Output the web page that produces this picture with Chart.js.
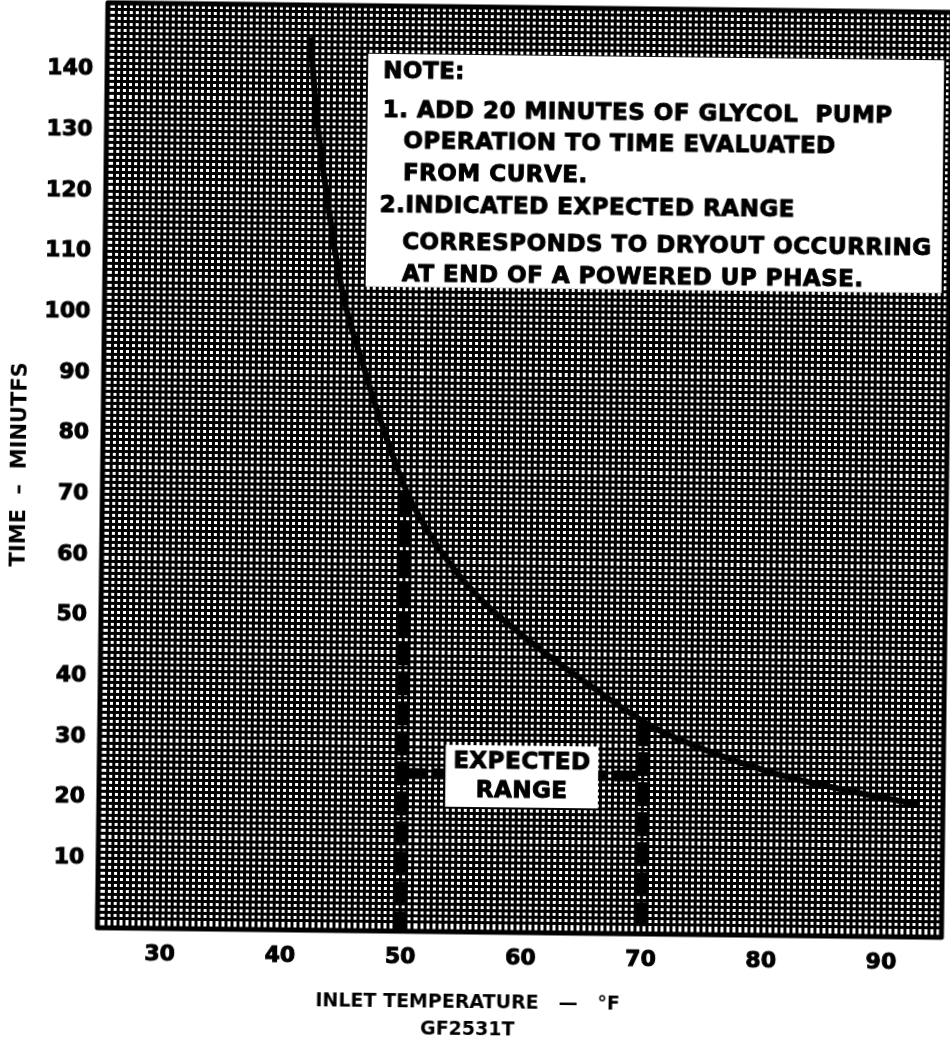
<!DOCTYPE html>
<html lang="en">
<head>
  <meta charset="UTF-8">
  <title>Time vs Inlet Temperature – GF2531T</title>
  <style>
    /* === Page === */
    html,body{margin:0;padding:0;background:#fff;overflow:hidden;}
    #wrap{width:950px;height:1056px;transform:rotate(0.65deg);transform-origin:50% 50%;}
    canvas{display:block;background:#fff;}
  </style>
  <script src="https://cdn.jsdelivr.net/npm/chart.js"></script>
</head>
<body>
  <div id="wrap"><canvas id="chart" width="950" height="1056"></canvas></div>

<script>
/* ===== Data ===== */
const tempF   = [41.7, 42.2, 42.7, 43.2, 43.8, 44.6, 46.4, 47.8, 50.1, 52.9, 56.3, 60.5, 64.7, 70.3, 72.8, 80.4, 87.3, 92.9];
const minutes = [145.7,134.0,126.0,119.5,112.0,103.5, 91.5, 83.0, 71.0, 61.5, 53.5, 46.5, 40.5, 33.2, 30.8, 25.5, 22.4, 20.4];

const xTickLabels = [30, 40, 50, 60, 70, 80, 90];
const yTickLabels = [10, 20, 30, 40, 50, 60, 70, 80, 90, 100, 110, 120, 130, 140];
const xRange = [24.8, 95];
const yRange = [-1.5, 151];

// expected range: dashed drop lines and bar
const rangeF      = [50, 70];
const rangeTopMin = [71.0, 33.4];
const rangeBarMin = 24.5;

// annotation boxes, in data units
const noteF   = [46.5, 94.4], noteMin  = [104.7, 143.1];
const rangeBoxF = [53.6, 66.3], rangeBoxMin = [19.1, 29.3];

const noteLines = [
  "NOTE:",
  "1. ADD 20 MINUTES OF GLYCOL  PUMP",
  "OPERATION TO TIME EVALUATED",
  "FROM CURVE.",
  "2.INDICATED EXPECTED RANGE",
  "CORRESPONDS TO DRYOUT OCCURRING",
  "AT END OF A POWERED UP PHASE."
];
const rangeLines = ["EXPECTED", "RANGE"];

/* ===== Helpers ===== */
const FONT = '"DejaVu Sans", "Liberation Sans", sans-serif';
const pts = (xs, ys) => xs.map((x, i) => ({x, y: ys[i]}));
function heavy(g,s,x,y){g.fillText(s,x,y);g.strokeText(s,x,y);}

/* ===== Overlay: note box, range label, plot frame ===== */
const overlay = {
  id: "overlay",
  beforeDraw(c){const g=c.ctx;g.save();g.fillStyle="#fff";g.fillRect(0,0,c.width,c.height);g.restore();},
  afterDatasetsDraw(c){
    const g=c.ctx,xs=c.scales.x,ys=c.scales.y,a=c.chartArea;
    g.save();
    g.textBaseline="middle";g.letterSpacing="0.5px";
    g.strokeStyle="#000";g.lineWidth=1;g.lineJoin="round";

    // note box
    let l=xs.getPixelForValue(noteF[0]),r=xs.getPixelForValue(noteF[1]);
    let t=ys.getPixelForValue(noteMin[1]),b=ys.getPixelForValue(noteMin[0]);
    g.fillStyle="#fff";g.fillRect(l,t,r-l,b-t);
    g.fillStyle="#000";g.font="bold 23px "+FONT;g.textAlign="left";
    const dy=[18,57,88,120,152,189,221], dx=[15,15,36,36,13,36,36];
    noteLines.forEach((s,i)=>heavy(g,s,l+dx[i],t+dy[i]));

    // expected range label
    l=xs.getPixelForValue(rangeBoxF[0]);r=xs.getPixelForValue(rangeBoxF[1]);
    t=ys.getPixelForValue(rangeBoxMin[1]);b=ys.getPixelForValue(rangeBoxMin[0]);
    g.fillStyle="#fff";g.fillRect(l,t,r-l,b-t);
    g.fillStyle="#000";g.textAlign="center";
    const cx=(l+r)/2,cy=(t+b)/2;
    heavy(g,rangeLines[0],cx,cy-14);heavy(g,rangeLines[1],cx,cy+15);

    // heavy frame
    g.letterSpacing="0px";g.lineWidth=5;
    g.strokeRect(a.left,a.top,a.right-a.left,a.bottom-a.top);
    g.restore();
  }
};

/* ===== Chart ===== */
const dash = {borderColor:"#000",borderWidth:11,borderDash:[24,6],pointRadius:0,showLine:true,fill:false};
const tickFont = {family:FONT,size:22,weight:"bold"};
new Chart(document.getElementById("chart"),{
  type:"scatter",
  data:{datasets:[
    {label:"Time",data:pts(tempF,minutes),borderColor:"#000",borderWidth:6,pointRadius:0,showLine:true,
     tension:0.4,cubicInterpolationMode:"monotone",fill:false},
    {label:"low end",data:pts([rangeF[0],rangeF[0]],[rangeTopMin[0],yRange[0]]),...dash},
    {label:"high end",data:pts([rangeF[1],rangeF[1]],[rangeTopMin[1],yRange[0]]),...dash},
    {label:"range",data:pts(rangeF,[rangeBarMin,rangeBarMin]),...dash}
  ]},
  options:{
    responsive:false,animation:false,devicePixelRatio:1,
    layout:{padding:{top:7,right:4,left:0,bottom:0}},
    plugins:{legend:{display:false},tooltip:{enabled:false},
      title:{display:true,position:"bottom",color:"#000",
        text:["INLET TEMPERATURE   \u2014   \u00B0F","GF2531T"],
        font:{family:FONT,size:19,weight:"bold",lineHeight:27/19},padding:{top:8,bottom:12.5}}},
    scales:{
      x:{type:"linear",position:"bottom",min:xRange[0],max:xRange[1],
        afterFit:s=>{s.height=49.5;s.paddingLeft=0;s.paddingRight=0;},
        border:{display:false},
        grid:{color:"#000",lineWidth:3,drawTicks:false},
        ticks:{stepSize:0.5,autoSkip:false,maxRotation:0,padding:13,color:"#000",font:tickFont,
          textStrokeColor:"#000",textStrokeWidth:1,
          callback:v=>xTickLabels.includes(v)?String(v):""}},
      y:{type:"linear",min:yRange[0],max:yRange[1],
        afterFit:s=>{s.width=102;s.paddingTop=0;s.paddingBottom=0;},
        border:{display:false},
        grid:{color:"#000",lineWidth:3,drawTicks:false},
        ticks:{stepSize:1,autoSkip:false,padding:14,color:"#000",font:tickFont,
          textStrokeColor:"#000",textStrokeWidth:1,
          callback:v=>yTickLabels.includes(v)?String(v):""},
        title:{display:true,text:"TIME  \u2013  MINUTFS",color:"#000",
          font:{family:FONT,size:21,weight:"bold"},padding:{top:7,bottom:0}}}
    }
  },
  plugins:[overlay]
});
</script>
</body>
</html>
